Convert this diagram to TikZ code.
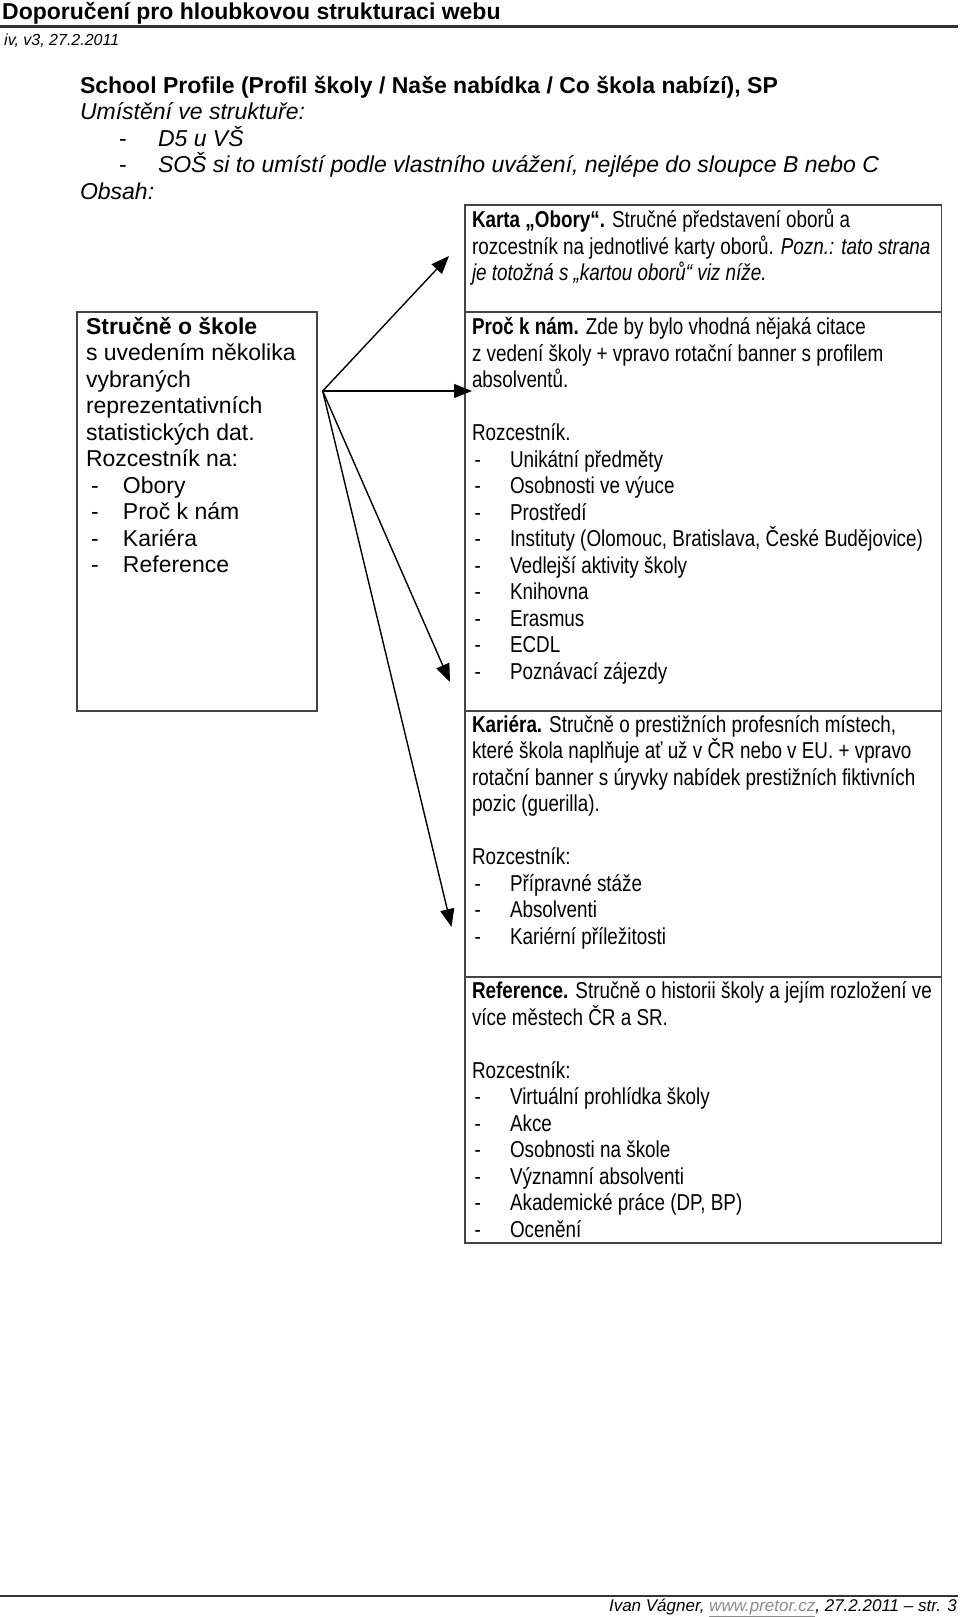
\documentclass[tikz,border=0pt]{standalone}
\usepackage{fontspec}
\setmainfont{Liberation Sans}
\newfontfamily\narrowfont{Liberation Sans}[FakeStretch=0.82]
\usetikzlibrary{arrows.meta}
\definecolor{boxgray}{HTML}{444444}
\definecolor{rulegray}{HTML}{333333}
\definecolor{linkgray}{HTML}{8C8C8C}
\newcommand{\mystrut}{\rule{0pt}{18pt}}
\newcommand{\ldash}[1]{\makebox[37pt][l]{\hspace{5pt}-}#1}
\newcommand{\rdash}[1]{\makebox[38pt][l]{\hspace{2.5pt}-}#1}
\newcommand{\tdash}[1]{\makebox[78pt][l]{\hspace{39pt}-}#1}
\tikzset{
  txt/.style={anchor=north west, inner sep=0pt, outer sep=0pt, align=left,
    font=\fontsize{23}{26.5}\selectfont},
  ntxt/.style={txt, font=\narrowfont\fontsize{23}{26.5}\selectfont},
  panel/.style={draw=boxgray, line width=1.4pt, inner sep=0pt, outer sep=0pt,
    anchor=north west},
  link/.style={draw=black, line width=1.4pt, -{Triangle[length=18pt,width=14pt]}},
  rulestyle/.style={draw=rulegray, line width=2.5pt},
}
\begin{document}
\begin{tikzpicture}[x=1pt,y=-1pt]
\path[fill=white,use as bounding box] (0,0) rectangle (960,1617);

% header
\node[anchor=base west, inner sep=0pt, font=\bfseries\fontsize{23}{26.5}\selectfont] (hdr) at (2,19.5)
  {Doporučení pro hloubkovou strukturaci webu};
\coordinate (hrl) at (0,26.5);
\coordinate (hrr) at (958,26.5);
\draw[rulestyle] (hrl) -- (hrr);
\node[anchor=base west, inner sep=0pt, font=\itshape\fontsize{16}{20}\selectfont] (ver) at (4,45)
  {iv, v3, 27.2.2011};

% title block
\node[txt] (title) at (80,75) {\mystrut\textbf{School Profile (Profil školy / Naše nabídka / Co škola nabízí), SP}\\
  \textit{Umístění ve struktuře:}\\
  \tdash{\textit{D5 u VŠ}}\\
  \tdash{\textit{SOŠ si to umístí podle vlastního uvážení, nejlépe do sloupce B nebo C}}\\
  \textit{Obsah:}};

% left box
\node[panel, minimum width=240pt, minimum height=399pt] (lbox) at (77,312) {};
\node[txt] (ltext) at (86,316) {\mystrut\textbf{Stručně o škole}\\
  s uvedením několika\\
  vybraných\\
  reprezentativních\\
  statistických dat.\\
  Rozcestník na:\\
  \ldash{Obory}\\
  \ldash{Proč k nám}\\
  \ldash{Kariéra}\\
  \ldash{Reference}};

% right boxes
\node[panel, minimum width=476.7pt, minimum height=107pt] (obory) at (465,205) {};
\node[panel, minimum width=476.7pt, minimum height=399pt] (proc) at (465,312) {};
\node[panel, minimum width=476.7pt, minimum height=266pt] (kariera) at (465,711) {};
\node[panel, minimum width=476.7pt, minimum height=266pt] (refer) at (465,977) {};

\node[ntxt] (oborytext) at (472,209) {\mystrut\textbf{Karta „Obory“.} Stručné představení oborů a\\
  rozcestník na jednotlivé karty oborů. \textit{Pozn.: tato strana}\\
  \textit{je totožná s „kartou oborů“ viz níže.}};

\node[ntxt] (proctext) at (472,316.7) {\mystrut\textbf{Proč k nám.} Zde by bylo vhodná nějaká citace\\
  z vedení školy + vpravo rotační banner s profilem\\
  absolventů.\\
  \mbox{}\\
  Rozcestník.\\
  \rdash{Unikátní předměty}\\
  \rdash{Osobnosti ve výuce}\\
  \rdash{Prostředí}\\
  \rdash{Instituty (Olomouc, Bratislava, České Budějovice)}\\
  \rdash{Vedlejší aktivity školy}\\
  \rdash{Knihovna}\\
  \rdash{Erasmus}\\
  \rdash{ECDL}\\
  \rdash{Poznávací zájezdy}};

\node[ntxt] (karieratext) at (472,714) {\mystrut\textbf{Kariéra.} Stručně o prestižních profesních místech,\\
  které škola naplňuje ať už v ČR nebo v EU. + vpravo\\
  rotační banner s úryvky nabídek prestižních fiktivních\\
  pozic (guerilla).\\
  \mbox{}\\
  Rozcestník:\\
  \rdash{Přípravné stáže}\\
  \rdash{Absolventi}\\
  \rdash{Kariérní příležitosti}};

\node[ntxt] (refertext) at (472,980.7) {\mystrut\textbf{Reference.} Stručně o historii školy a jejím rozložení ve\\
  více městech ČR a SR.\\
  \mbox{}\\
  Rozcestník:\\
  \rdash{Virtuální prohlídka školy}\\
  \rdash{Akce}\\
  \rdash{Osobnosti na škole}\\
  \rdash{Významní absolventi}\\
  \rdash{Akademické práce (DP, BP)}\\
  \rdash{Ocenění}};

% arrows
\coordinate (src) at (322.7,391);
\coordinate (t1) at (449,256);
\coordinate (t2) at (472,391);
\coordinate (t3) at (450,682);
\coordinate (t4) at (451.5,927);
\draw[link] (src) -- (t1);
\draw[link] (src) -- (t2);
\draw[link] (src) -- (t3);
\draw[link] (src) -- (t4);

% footer
\coordinate (frl) at (0,1596);
\coordinate (frr) at (958,1596);
\draw[draw=rulegray, line width=2pt] (frl) -- (frr);
\node[anchor=base east, inner sep=0pt, font=\itshape\fontsize{17}{20}\selectfont] (foot) at (957,1611)
  {Ivan Vágner, \textcolor{linkgray}{\underline{www.pretor.cz}}, 27.2.2011 – str. 3};
\end{tikzpicture}
\end{document}
